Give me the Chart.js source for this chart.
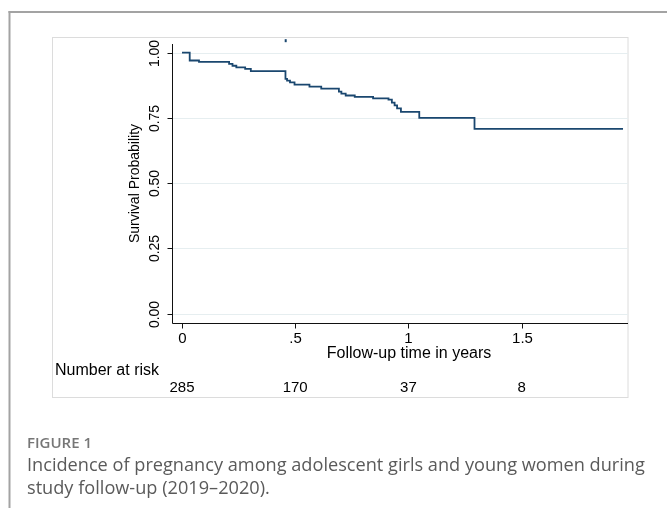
<!DOCTYPE html>
<html>
<head>
<meta charset="utf-8">
<script src="https://cdn.jsdelivr.net/npm/chart.js@4.4.1/dist/chart.umd.min.js"></script>
<style>
  html, body { margin: 0; padding: 0; background: #ffffff; }
  #wrap { position: relative; width: 667px; height: 508px; overflow: hidden; }
  #c { position: absolute; left: 0; top: 0; }
  #figlabel { position: absolute; left: 27px; top: 433px; font-family: "Open Sans", "Noto Sans", sans-serif; font-weight: 600; font-size: 15px; line-height: 18px; color: #767676; white-space: nowrap; }
  #caption { position: absolute; left: 27px; top: 453px; font-family: "Open Sans", "Noto Sans", sans-serif; font-weight: 400; font-size: 18px; line-height: 23px; color: #5a5a5a; white-space: nowrap; }
</style>
</head>
<body>
<div id="wrap">
  <canvas id="c" width="667" height="508"></canvas>
  <div id="figlabel">FIGURE 1</div>
  <div id="caption"><div id="cap1">Incidence of pregnancy among adolescent girls and young women during</div><div>study follow-up (2019–2020).</div></div>
</div>
<script>
// ---- data ----
const times    = [0, 0.034, 0.075, 0.208, 0.223, 0.240, 0.279, 0.304, 0.457, 0.464, 0.477, 0.497, 0.563, 0.615, 0.693, 0.704, 0.723, 0.763, 0.844, 0.912, 0.927, 0.939, 0.950, 0.967, 1.048, 1.292, 1.948];
const survival = [1.000, 0.970, 0.965, 0.957, 0.950, 0.944, 0.938, 0.929, 0.900, 0.893, 0.886, 0.878, 0.870, 0.862, 0.851, 0.843, 0.836, 0.831, 0.825, 0.820, 0.809, 0.798, 0.787, 0.773, 0.750, 0.708, 0.708];
const markTimes = [0.458];
const markValues = [1.046];
const yTicks = [0, 0.25, 0.5, 0.75, 1];
const yTickLabels = ['0.00', '0.25', '0.50', '0.75', '1.00'];
const xTicks = [0, 0.5, 1, 1.5];
const xTickLabels = ['0', '.5', '1', '1.5'];
const riskTimes = [0, 0.5, 1, 1.5];
const atRisk = [285, 170, 37, 8];
const yTitle = 'Survival Probability';
const xTitle = 'Follow-up time in years';
const riskTitle = 'Number at risk';

// fit caption line width
(function(){
  const el = document.getElementById('cap1');
  const target = 618;
  const w = el.getBoundingClientRect().width;
  if (w > 0) {
    const fs = 18 * target / w;
    document.getElementById('caption').style.fontSize = fs.toFixed(2) + 'px';
  }
})();

const NAVY = '#1a476f';
const SANS = '"Liberation Sans", Arial, sans-serif';

const stataPlugin = {
  id: 'stata',
  beforeDatasetsDraw(chart) {
    const ctx = chart.ctx, y = chart.scales.y, a = chart.chartArea;
    ctx.save();
    // outer page frame
    ctx.fillStyle = '#a3a3a3';
    ctx.fillRect(8.5, 11, 667, 2);
    ctx.fillRect(8.5, 11, 2, 508);
    // inner graph region box
    ctx.strokeStyle = '#dcdcdc';
    ctx.lineWidth = 1;
    ctx.strokeRect(52.5, 37.5, 575.5, 360);
    // gridlines
    ctx.strokeStyle = '#e6eef0';
    ctx.lineWidth = 1;
    yTicks.forEach(v => {
      const py = Math.round(y.getPixelForValue(v)) + 0.5;
      ctx.beginPath(); ctx.moveTo(a.left, py); ctx.lineTo(a.right, py); ctx.stroke();
    });
    ctx.restore();
  },
  afterDatasetsDraw(chart) {
    const ctx = chart.ctx, x = chart.scales.x, y = chart.scales.y, a = chart.chartArea;
    ctx.save();
    ctx.strokeStyle = '#111';
    ctx.lineWidth = 1;
    const ax = Math.round(a.left) + 0.5;
    const ay = Math.round(a.bottom) + 0.5;
    // axes
    ctx.beginPath(); ctx.moveTo(ax, a.top); ctx.lineTo(ax, ay); ctx.stroke();
    ctx.beginPath(); ctx.moveTo(ax, ay); ctx.lineTo(a.right, ay); ctx.stroke();
    // y ticks and labels
    ctx.fillStyle = '#000';
    ctx.font = '14px ' + SANS;
    ctx.textAlign = 'center';
    ctx.textBaseline = 'middle';
    yTicks.forEach((v, i) => {
      const py = Math.round(y.getPixelForValue(v)) + 0.5;
      ctx.beginPath(); ctx.moveTo(ax - 5, py); ctx.lineTo(ax, py); ctx.stroke();
      ctx.save();
      ctx.translate(155, py);
      ctx.rotate(-Math.PI / 2);
      ctx.fillText(yTickLabels[i], 0, 0);
      ctx.restore();
    });
    // y title
    ctx.save();
    ctx.translate(135, (a.top + a.bottom) / 2);
    ctx.rotate(-Math.PI / 2);
    ctx.font = '14px ' + SANS;
    ctx.fillText(yTitle, 0, 0);
    ctx.restore();
    // x ticks and labels
    ctx.font = '15px ' + SANS;
    xTicks.forEach((v, i) => {
      const px = Math.round(x.getPixelForValue(v)) + 0.5;
      ctx.beginPath(); ctx.moveTo(px, ay); ctx.lineTo(px, ay + 5); ctx.stroke();
      ctx.fillText(xTickLabels[i], px, 339);
    });
    // x title
    ctx.font = '16px ' + SANS;
    ctx.fillText(xTitle, 409, 354);
    // number at risk
    ctx.textAlign = 'left';
    ctx.fillText(riskTitle, 55, 371);
    ctx.textAlign = 'center';
    ctx.font = '15px ' + SANS;
    riskTimes.forEach((t, i) => {
      ctx.fillText(String(atRisk[i]), x.getPixelForValue(t), 388);
    });
    ctx.restore();
  }
};

new Chart(document.getElementById('c'), {
  type: 'line',
  data: {
    datasets: [
      {
        label: 'KM',
        data: times.map((t, i) => ({ x: t, y: survival[i] })),
        borderColor: NAVY,
        borderWidth: 1.8,
        stepped: 'before',
        pointRadius: 0,
        fill: false
      },
      {
        label: 'mark',
        data: markTimes.map((t, i) => ({ x: t, y: markValues[i] })),
        showLine: false,
        pointStyle: 'line',
        rotation: 90,
        pointRadius: 1.5,
        borderColor: NAVY,
        borderWidth: 2,
        clip: false
      }
    ]
  },
  options: {
    responsive: false,
    animation: false,
    devicePixelRatio: 1,
    layout: { padding: { left: 172, right: 39, top: 44, bottom: 185 } },
    plugins: { legend: { display: false }, tooltip: { enabled: false } },
    scales: {
      x: { type: 'linear', min: -0.0442, max: 1.970, display: false },
      y: { type: 'linear', min: -0.0356, max: 1.0333, display: false }
    }
  },
  plugins: [stataPlugin]
});
</script>
</body>
</html>
